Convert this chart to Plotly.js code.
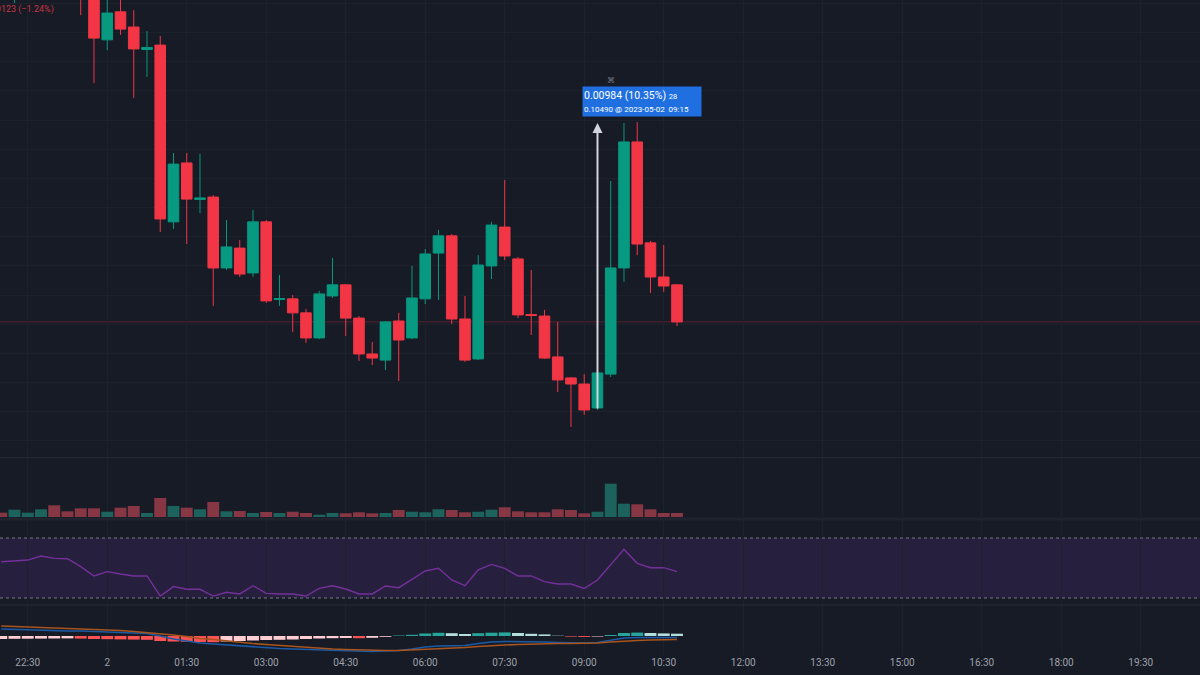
<!DOCTYPE html>
<html>
<head>
<meta charset="utf-8">
<script src="https://cdn.plot.ly/plotly-3.0.1.min.js"></script>
<style>
  html, body { margin: 0; padding: 0; background: #171b26; }
  #chart { width: 1200px; height: 675px; }
</style>
</head>
<body>
<div id="chart"></div>
<script>
// ---- data (15-minute candles, 2023-05-01 22:00 -> 2023-05-02 10:45) ----
const times = [
  '2023-05-01 22:00','2023-05-01 22:15','2023-05-01 22:30','2023-05-01 22:45',
  '2023-05-01 23:00','2023-05-01 23:15','2023-05-01 23:30','2023-05-01 23:45',
  '2023-05-02 00:00','2023-05-02 00:15','2023-05-02 00:30','2023-05-02 00:45',
  '2023-05-02 01:00','2023-05-02 01:15','2023-05-02 01:30','2023-05-02 01:45',
  '2023-05-02 02:00','2023-05-02 02:15','2023-05-02 02:30','2023-05-02 02:45',
  '2023-05-02 03:00','2023-05-02 03:15','2023-05-02 03:30','2023-05-02 03:45',
  '2023-05-02 04:00','2023-05-02 04:15','2023-05-02 04:30','2023-05-02 04:45',
  '2023-05-02 05:00','2023-05-02 05:15','2023-05-02 05:30','2023-05-02 05:45',
  '2023-05-02 06:00','2023-05-02 06:15','2023-05-02 06:30','2023-05-02 06:45',
  '2023-05-02 07:00','2023-05-02 07:15','2023-05-02 07:30','2023-05-02 07:45',
  '2023-05-02 08:00','2023-05-02 08:15','2023-05-02 08:30','2023-05-02 08:45',
  '2023-05-02 09:00','2023-05-02 09:15','2023-05-02 09:30','2023-05-02 09:45',
  '2023-05-02 10:00','2023-05-02 10:15','2023-05-02 10:30','2023-05-02 10:45'
];
const openP = [
  0.11015,0.10953,0.10997,0.11025,0.11083,0.11008,0.10973,0.10932,
  0.10775,0.10871,0.10819,0.10742,0.10757,0.10151,0.10353,0.10228,
  0.10236,0.09993,0.10061,0.09976,0.10151,0.09885,0.09887,0.09839,
  0.09753,0.09897,0.09935,0.09821,0.09698,0.09677,0.09811,0.09753,
  0.09887,0.10044,0.10103,0.09818,0.09681,0.10000,0.10133,0.10024,
  0.09833,0.09828,0.09688,0.09616,0.09595,0.09513,0.09629,0.09993,
  0.10425,0.10079,0.09962,0.09935
];
const highP = [
  0.11066,0.11049,0.11076,0.11111,0.11117,0.11035,0.11001,0.10953,
  0.10922,0.10919,0.10877,0.10805,0.10788,0.10387,0.10387,0.10384,
  0.10243,0.10157,0.10089,0.10192,0.10157,0.09969,0.09900,0.09852,
  0.09914,0.10027,0.09938,0.09828,0.09739,0.09811,0.09839,0.10000,
  0.10058,0.10123,0.10109,0.09897,0.10037,0.10151,0.10295,0.10031,
  0.09986,0.09849,0.09808,0.09619,0.09629,0.09636,0.10291,0.10490,
  0.10493,0.10086,0.10072,0.09938
];
const lowP = [
  0.10939,0.10901,0.10973,0.11001,0.10987,0.10946,0.10860,0.10627,
  0.10740,0.10792,0.10576,0.10648,0.10116,0.10127,0.10075,0.10181,
  0.09863,0.09986,0.09962,0.09962,0.09873,0.09863,0.09773,0.09736,
  0.09749,0.09890,0.09760,0.09674,0.09660,0.09643,0.09605,0.09749,
  0.09869,0.09883,0.09801,0.09671,0.09677,0.09955,0.10020,0.09821,
  0.09763,0.09681,0.09568,0.09448,0.09489,0.09506,0.09619,0.09945,
  0.10037,0.09907,0.09911,0.09794
];
const closeP = [
  0.10963,0.11008,0.11032,0.11083,0.11008,0.10973,0.10932,0.10781,
  0.10867,0.10812,0.10744,0.10749,0.10161,0.10349,0.10229,0.10233,
  0.09993,0.10065,0.09972,0.10151,0.09880,0.09888,0.09839,0.09753,
  0.09904,0.09935,0.09821,0.09698,0.09684,0.09808,0.09746,0.09890,
  0.10041,0.10103,0.09818,0.09677,0.10003,0.10140,0.10034,0.09832,
  0.09830,0.09684,0.09609,0.09595,0.09506,0.09633,0.09993,0.10425,
  0.10075,0.09962,0.09931,0.09808
];
const volume = [
  43,73,43,77,117,57,87,87,53,93,110,40,190,110,93,77,150,57,60,40,
  50,40,53,40,23,40,37,47,37,40,70,53,47,77,70,47,53,73,97,57,
  47,47,77,70,37,53,333,133,127,77,40,40
];
const rsi = [
  54.2,54.7,55.3,58.0,56.4,56.2,50.9,44.7,47.6,46.0,44.7,44.7,31.3,37.6,35.8,35.8,
  31.3,33.8,32.7,38.2,33.1,32.7,32.7,31.3,36.4,38.2,36.0,32.7,32.7,38.0,36.9,42.4,
  48.0,49.8,42.0,38.2,48.7,52.4,49.8,44.7,44.7,40.9,39.3,39.3,36.4,42.0,52.4,62.4,
  53.1,50.2,50.2,47.6
];
const macdLine = [
  7,6.5,6,6,5.5,5,5,4.5,4,4,3,2.5,0,-3,-5,-7,-8,-9,-10,-11,
  -11.5,-12.5,-13,-13.5,-14,-14.5,-14.5,-15,-15.5,-15,-14.5,-13,-11,-10,-10,-9.5,
  -7.5,-6,-5.5,-5.5,-6,-6,-6.5,-7,-7,-6.5,-4,-2,-1.5,-1.5,-1.5,-1.5
];
const signalLine = [
  10,9.5,9,8.5,8,7.7,7.3,7,6.5,5.5,4.5,3.5,2.5,1,-0.5,-2.5,-3.5,-5,-6,-7.5,
  -8.5,-9.5,-10.5,-11.5,-12,-13,-13.5,-14,-14.5,-14.5,-14.5,-14,-13,-12.5,-12,-11.5,
  -10.5,-9.5,-9,-8.5,-8,-8,-7.5,-7.5,-7.5,-7,-6,-5,-4.5,-4,-3.5,-3.5
];
const macdHist = [
  -3.0,-2.8,-2.7,-2.6,-2.5,-2.4,-2.6,-3.0,-3.2,-3.4,
  -3.6,-3.8,-5.0,-5.5,-5.8,-6.0,-6.2,-5.5,-5.0,-4.5,
  -4.0,-3.8,-3.5,-3.0,-2.5,-2.2,-2.0,-2.2,-1.8,-0.8,
  0.5,1.2,2.5,3.2,2.8,2.0,2.8,3.3,3.6,3.0,
  2.2,1.6,0.3,-0.6,-0.9,-0.5,1.0,3.0,3.4,3.0,2.6,2.3
];
const tickTimes = [
  '2023-05-01 22:30','2023-05-02 00:00','2023-05-02 01:30','2023-05-02 03:00',
  '2023-05-02 04:30','2023-05-02 06:00','2023-05-02 07:30','2023-05-02 09:00',
  '2023-05-02 10:30','2023-05-02 12:00','2023-05-02 13:30','2023-05-02 15:00',
  '2023-05-02 16:30','2023-05-02 18:00','2023-05-02 19:30'
];
const tickLabels = ['22:30','2','01:30','03:00','04:30','06:00','07:30','09:00',
  '10:30','12:00','13:30','15:00','16:30','18:00','19:30'];
const rsiUpper = 70, rsiLower = 30;
const measureTime = '2023-05-02 09:15';
const measureFrom = 0.09506, measureTo = 0.10490;
const measureLabel = '0.00984 (10.35%)', measureBars = '28';
const measureSub = '0.10490 @ 2023-05-02&nbsp;&nbsp;09:15';

// ---- styling ----
const BG = '#171b26';
const UP = '#089981', DOWN = '#f23645';
const GRID = '#1d212c';

const volColors = closeP.map((c, i) => c >= openP[i] ? 'rgba(34,171,148,0.5)' : 'rgba(247,82,95,0.5)');
const histColors = macdHist.map((h, i) => {
  const prev = i > 0 ? macdHist[i - 1] : h - 0.1;
  if (h >= 0) return h > prev ? '#26a69a' : '#b2dfdb';
  return h < prev ? '#ff5252' : '#ffcdd2';
});

const n = closeP.length;
const chg = closeP[n - 1] - closeP[n - 2];
const pct = chg / closeP[n - 2] * 100;
const legendTxt = closeP[n-1].toFixed(5) + '  ' + (chg < 0 ? '−' : '+') + Math.abs(chg).toFixed(5) +
  ' (' + (pct < 0 ? '−' : '+') + Math.abs(pct).toFixed(2) + '%)';

const traces = [
  {
    type: 'candlestick', x: times, open: openP, high: highP, low: lowP, close: closeP,
    xaxis: 'x', yaxis: 'y', hoverinfo: 'skip',
    increasing: { line: { color: UP, width: 1 }, fillcolor: UP },
    decreasing: { line: { color: DOWN, width: 1 }, fillcolor: DOWN },
    whiskerwidth: 0
  },
  {
    type: 'bar', x: times, y: volume, xaxis: 'x', yaxis: 'y2',
    marker: { color: volColors, line: { width: 0 } }, hoverinfo: 'skip'
  },
  {
    type: 'scatter', mode: 'lines', x: times, y: rsi, xaxis: 'x', yaxis: 'y3',
    line: { color: '#74309a', width: 1.4 }, hoverinfo: 'skip'
  },
  {
    type: 'bar', x: times, y: macdHist, xaxis: 'x', yaxis: 'y4',
    marker: { color: histColors, line: { width: 0 } }, hoverinfo: 'skip'
  },
  {
    type: 'scatter', mode: 'lines', x: times, y: macdLine, xaxis: 'x', yaxis: 'y4',
    line: { color: '#1c5aa6', width: 1.6 }, hoverinfo: 'skip'
  },
  {
    type: 'scatter', mode: 'lines', x: times, y: signalLine, xaxis: 'x', yaxis: 'y4',
    line: { color: '#a8541c', width: 1.6 }, hoverinfo: 'skip'
  }
];

const H = 655; // plot area height (margin b = 20)
const dom = (topPx, botPx) => [(H - botPx) / H, (H - topPx) / H];

const layout = {
  width: 1200, height: 675,
  margin: { l: 0, r: 0, t: 0, b: 20 },
  paper_bgcolor: BG, plot_bgcolor: BG,
  showlegend: false,
  boxgap: 0.2, boxgroupgap: 0,
  bargap: 0.1,
  xaxis: {
    type: 'date', anchor: 'y4',
    range: ['2023-05-01 21:58:36', '2023-05-02 20:37:06'],
    tickvals: tickTimes, ticktext: tickLabels,
    showgrid: true, gridcolor: GRID, gridwidth: 1,
    zeroline: false, showline: false, ticks: '',
    tickfont: { family: 'Roboto, Liberation Sans, sans-serif', size: 10, color: '#9ea1aa' },
    rangeslider: { visible: false }, fixedrange: true
  },
  yaxis: {
    domain: dom(0, 457), range: [0.093448, 0.109117],
    tick0: 0, dtick: 0.001, showgrid: true, gridcolor: GRID,
    showticklabels: false, zeroline: false, ticks: '', fixedrange: true
  },
  yaxis2: {
    domain: dom(458, 517), range: [0, 590],
    showgrid: false, showticklabels: false, zeroline: false, ticks: '', fixedrange: true
  },
  yaxis3: {
    domain: dom(520, 604), range: [26, 82],
    showgrid: false, showticklabels: false, zeroline: false, ticks: '', fixedrange: true
  },
  yaxis4: {
    domain: dom(606, 655), range: [-19, 30],
    showgrid: false, showticklabels: false, zeroline: false, ticks: '', fixedrange: true
  },
  shapes: [
    // RSI band
    { type: 'rect', xref: 'paper', yref: 'y3', x0: 0, x1: 1, y0: rsiLower, y1: rsiUpper,
      fillcolor: 'rgba(120,60,190,0.16)', line: { width: 0 }, layer: 'below' },
    { type: 'line', xref: 'paper', yref: 'y3', x0: 0, x1: 1, y0: rsiUpper, y1: rsiUpper,
      line: { color: '#787b86', width: 1, dash: '3px,3px' } },
    { type: 'line', xref: 'paper', yref: 'y3', x0: 0, x1: 1, y0: rsiLower, y1: rsiLower,
      line: { color: '#787b86', width: 1, dash: '3px,3px' } },
    // last price line
    { type: 'line', xref: 'paper', yref: 'y', x0: 0, x1: 1, y0: closeP[n - 1], y1: closeP[n - 1],
      line: { color: 'rgba(242,54,69,0.3)', width: 1 }, layer: 'below' },
    // pane separators
    { type: 'line', xref: 'paper', yref: 'paper', x0: 0, x1: 1, y0: (H - 457.5) / H, y1: (H - 457.5) / H,
      line: { color: '#242833', width: 1 } },
    { type: 'line', xref: 'paper', yref: 'paper', x0: 0, x1: 1, y0: (H - 519) / H, y1: (H - 519) / H,
      line: { color: '#1f232e', width: 3 } },
    { type: 'line', xref: 'paper', yref: 'paper', x0: 0, x1: 1, y0: (H - 605) / H, y1: (H - 605) / H,
      line: { color: '#1f232e', width: 2 } }
  ],
  annotations: [
    // measurement arrow
    { xref: 'x', yref: 'y', axref: 'x', ayref: 'y',
      x: measureTime, y: measureTo, ax: measureTime, ay: measureFrom,
      showarrow: true, arrowhead: 2, arrowsize: 1, arrowwidth: 2, arrowcolor: '#d1d4dc', text: '' },
    // measurement label
    { xref: 'x', yref: 'y', x: measureTime, y: measureTo, xanchor: 'left', yanchor: 'bottom',
      xshift: -15, yshift: 6, showarrow: false,
      text: measureLabel + ' <span style="font-size:7.5px">' + measureBars + '</span><br>' +
            '<span style="font-size:8px">' + measureSub + '</span>',
      align: 'left', width: 116, height: 27, bgcolor: '#1f6fe0', borderpad: 1,
      font: { family: 'Roboto, Liberation Sans, sans-serif', size: 10.5, color: '#ffffff' } },
    // small icon above label
    { xref: 'x', yref: 'y', x: measureTime, y: measureTo, xshift: 14, yshift: 43, showarrow: false,
      text: '⌘', font: { size: 8, color: '#6f7380' } },
    // legend text (cut off at left edge, as in the source screenshot)
    { xref: 'paper', yref: 'paper', x: 56 / 1200, y: 1, xanchor: 'right', yanchor: 'top', yshift: -2,
      showarrow: false, text: legendTxt,
      font: { family: 'Roboto, Liberation Sans, sans-serif', size: 9, color: '#c8343f' } }
  ]
};

Plotly.newPlot('chart', traces, layout, { staticPlot: true, displayModeBar: false });
</script>
</body>
</html>
